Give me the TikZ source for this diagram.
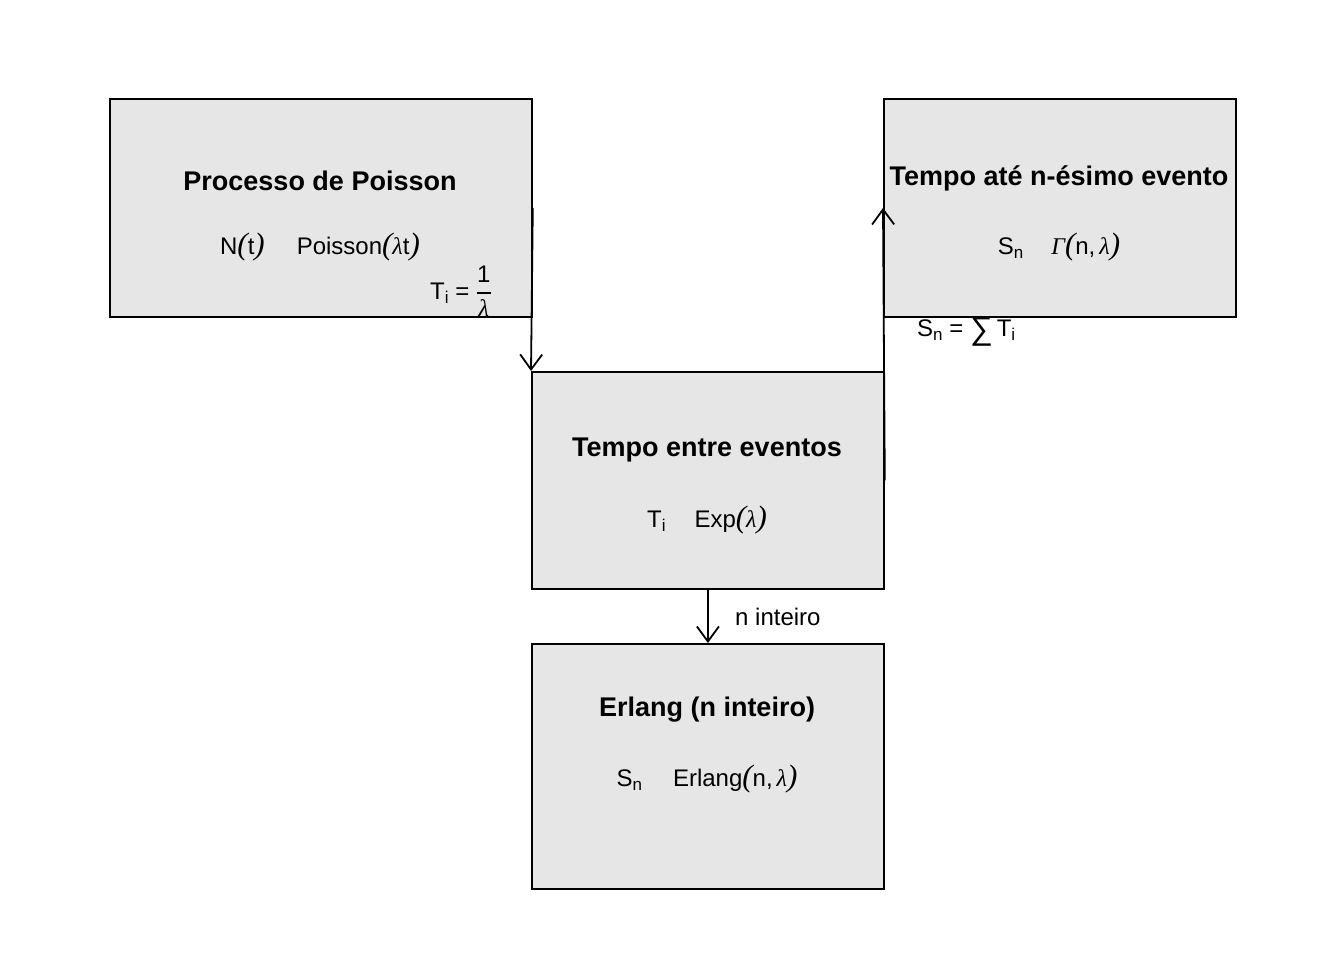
\documentclass[tikz,border=0pt]{standalone}
\usepackage{fontspec}
\usepackage{amsmath}
\setmainfont{Liberation Sans}
\newfontfamily\tnr{Liberation Serif}
\usetikzlibrary{arrows.meta}
\definecolor{boxgray}{HTML}{E6E6E6}
\newcommand{\lam}{{\tnr\itshape λ}}
\newcommand{\Gam}{{\tnr\itshape Γ}}
\newcommand{\lp}{{\tnr\itshape\fontsize{31}{31}\selectfont (}}
\newcommand{\rp}{{\tnr\itshape\fontsize{31}{31}\selectfont )}}
\newcommand{\sbs}[1]{\raisebox{-0.35ex}{\fontsize{17}{17}\selectfont #1}}
\begin{document}
\begin{tikzpicture}[x=1pt,y=-1pt,
  box/.style={draw=black,line width=1.8pt,fill=boxgray,anchor=north west,inner sep=0pt},
  ttl/.style={font=\fontsize{27}{32}\selectfont\bfseries,inner sep=0pt},
  txt/.style={font=\fontsize{24}{28}\selectfont,inner sep=0pt},
  arr/.style={line width=1.8pt,-{Straight Barb[length=15pt,width=22pt,line width=1.8pt]}}]
\useasboundingbox (0,0) rectangle (1344,960);
\node[box,minimum width=422pt,minimum height=218pt] (poisson) at (109,98) {};
\node[box,minimum width=352pt,minimum height=218pt] (ate) at (883,98) {};
\node[box,minimum width=352pt,minimum height=217pt] (entre) at (531,371) {};
\node[box,minimum width=352pt,minimum height=245pt] (erlang) at (531,643) {};

\node[ttl] (poissonT) at (320,181) {Processo de Poisson};
\node[txt] (poissonF) at (320,247) {N\lp t\rp\hspace{32pt}Poisson\lp\lam t\rp};
\node[ttl] (ateT) at (1059,178) {Tempo até n-ésimo evento};
\node[txt] (ateF) at (1059,247) {S\sbs{n}\hspace{28pt}\Gam\lp n,\,\lam\rp};
\node[ttl] (entreT) at (707,450) {Tempo entre eventos};
\node[txt] (entreF) at (707,520) {T\sbs{i}\hspace{29pt}Exp\lp\lam\rp};
\node[ttl] (erlangT) at (707,710) {Erlang (n inteiro)};
\node[txt] (erlangF) at (707,779) {S\sbs{n}\hspace{31pt}Erlang\lp n,\,\lam\rp};

\draw[arr] (poisson.east) -- (entre.north west);
\draw[arr] (entre.east) -- (ate.west);
\draw[arr] (entre.south) -- (erlang.north);

\node[txt,anchor=west] (lblT) at (430,291) {T\sbs{i} = $\genfrac{}{}{1.6pt}{0}{\hbox{\fontsize{24}{24}\selectfont 1}}{\hbox{\fontsize{24}{24}\selectfont\lam}}$};
\node[txt,anchor=west] (lblS) at (917,332) {S\sbs{n} = \raisebox{-0.25ex}{\fontsize{32}{32}\selectfont ∑}\,T\sbs{i}};
\node[txt,anchor=west] (lblN) at (735,617) {n inteiro};
\end{tikzpicture}
\end{document}
